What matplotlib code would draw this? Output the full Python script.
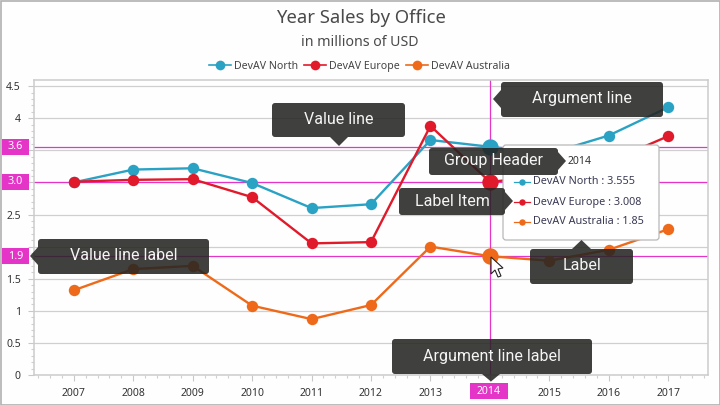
import matplotlib
matplotlib.use("Agg")
import matplotlib.pyplot as plt
from matplotlib.patches import FancyBboxPatch, Polygon, Rectangle
from matplotlib.ticker import MultipleLocator, FixedLocator, FixedFormatter

years = [2007, 2008, 2009, 2010, 2011, 2012, 2013, 2014, 2015, 2016, 2017]
north = [3.0, 3.2, 3.22, 2.99, 2.6, 2.66, 3.66, 3.555, 3.45, 3.73, 4.17]
europe = [3.01, 3.04, 3.05, 2.77, 2.05, 2.07, 3.88, 3.008, 3.1, 3.32, 3.72]
australia = [1.32, 1.65, 1.7, 1.08, 0.87, 1.09, 2.0, 1.85, 1.78, 1.95, 2.27]
series_names = ["DevAV North", "DevAV Europe", "DevAV Australia"]
series_colors = ["#2aa2c4", "#e01a2b", "#ee6a1a"]
y_tick_values = [0, 0.5, 1, 1.5, 2, 2.5, 3, 3.5, 4, 4.5]
# labels covered by the crosshair boxes in the reference are left empty
y_tick_labels = ["0", "0.5", "1", "1.5", "", "2.5", "", "", "4", "4.5"]
x_tick_labels = ["2007", "2008", "2009", "2010", "2011", "2012", "2013", "", "2015", "2016", "2017"]
hover_year = 2014
hover_values = [3.555, 3.008, 1.85]
hover_labels = ["3.6", "3.0", "1.9"]
tooltip_rows = ["DevAV North : 3.555", "DevAV Europe : 3.008", "DevAV Australia : 1.85"]

W, H = 720, 405
MAGENTA = "#e535c8"
TEXT = "#4a4a4a"
plt.rcParams["font.family"] = ["Noto Sans", "DejaVu Sans"]

fig = plt.figure(figsize=(7.2, 4.05), dpi=100, facecolor="#fefefe")
L, R, T, B = 34, 708, 80, 375
ax = fig.add_axes([L / W, 1 - B / H, (R - L) / W, (B - T) / H], facecolor="#fefefe")
ax.set_xlim(2006.33, 2017.67)
ax.set_ylim(0, (B - T) / 64.2)
for s in ax.spines.values():
    s.set_color("#cccccc")
    s.set_linewidth(1.1)
ax.yaxis.set_major_locator(FixedLocator(y_tick_values))
ax.yaxis.set_major_formatter(FixedFormatter(y_tick_labels))
ax.yaxis.set_minor_locator(MultipleLocator(0.1))
ax.xaxis.set_major_locator(FixedLocator(years))
ax.xaxis.set_major_formatter(FixedFormatter(x_tick_labels))
ax.xaxis.set_minor_locator(MultipleLocator(0.2))
ax.tick_params(axis="both", which="major", length=4.5, width=0.8, color="#c8c8c8",
               labelsize=7.5, labelcolor="#333333")
ax.tick_params(axis="both", which="minor", length=2.5, width=0.8, color="#d0d0d0")
ax.tick_params(axis="x", pad=5)
ax.tick_params(axis="y", pad=5, labelsize=7.5)
ax.grid(True, which="major", axis="y", color="#cfcfcf", lw=0.9, zorder=0)
ax.set_axisbelow(True)

for v in hover_values:
    ax.axhline(v, color=MAGENTA, lw=0.9, zorder=1.5)
ax.axvline(hover_year, color=MAGENTA, lw=0.9, zorder=1.5)

all_values = [north, europe, australia]
hi = years.index(hover_year)
for vals, col, name in zip(all_values, series_colors, series_names):
    ax.plot(years, vals, color=col, lw=1.7, marker="o", ms=8.2, mew=0, label=name, zorder=3)
    ax.plot([years[hi]], [vals[hi]], color=col, marker="o", ms=11.8, mew=0, ls="none", zorder=3.2)

legend_handles = [plt.Line2D([], [], color=c, lw=1.2, marker="o", ms=7, mew=0) for c in series_colors]
fig.legend(legend_handles, series_names, loc="center", bbox_to_anchor=(359.5 / W, 1 - 66.5 / H),
           ncols=3, frameon=False, fontsize=7.6, labelcolor="#444444", handlelength=2.1,
           handletextpad=0.25, columnspacing=0.6, borderpad=0)
fig.text(360.5 / W, 1 - 18 / H, "Year Sales by Office", ha="center", va="center", fontsize=13.3, color=TEXT)
fig.text(359.5 / W, 1 - 42.5 / H, "in millions of USD", ha="center", va="center", fontsize=10.2, color=TEXT)

ov = fig.add_axes([0, 0, 1, 1], facecolor="none")
ov.set_xlim(0, W)
ov.set_ylim(H, 0)
ov.axis("off")

def value_to_py(v):
    return ov.transData.inverted().transform(ax.transData.transform((years[0], v)))[1]
def year_to_px(x):
    return ov.transData.inverted().transform(ax.transData.transform((x, 0)))[0]

for v, lab in zip(hover_values, hover_labels):
    py = value_to_py(v)
    ov.add_patch(Rectangle((2, py - 8), 27, 16, fc=MAGENTA, ec="none", zorder=2))
    ov.text(15.5, py, lab, color="white", ha="center", va="center", fontsize=7.8, zorder=3)
hx = year_to_px(hover_year)
ov.add_patch(Rectangle((hx - 19.5, 383), 38, 16, fc=MAGENTA, ec="none", zorder=2))
ov.text(hx - 1, 391, str(hover_year), color="white", ha="center", va="center", fontsize=7.5, zorder=3)

ov.add_patch(FancyBboxPatch((505, 147), 152, 91, boxstyle="round,pad=2,rounding_size=3",
                            fc="white", ec="#b8b8b8", lw=0.9, zorder=4))
ov.text(568, 162, str(hover_year), color="#333333", ha="left", va="center", fontsize=7.5, zorder=5)
for i, (row, col) in enumerate(zip(tooltip_rows, series_colors)):
    py = 182 + i * 20
    ov.plot([514, 530], [py, py], color=col, lw=0.9, zorder=5)
    ov.plot([521.5], [py], color=col, marker="o", ms=4.6, mew=0, zorder=5)
    ov.text(533, py, row, color="#3a3a55", ha="left", va="center", fontsize=7.8, zorder=5)

ov.add_patch(Polygon([(491, 257), (491, 274), (495, 270), (498, 277), (501, 276),
                      (498, 269), (503, 268)], closed=True, fc="white", ec="#222222", lw=0.8, zorder=6))

DARK = (0.14, 0.14, 0.13, 0.87)
def callout(x0, y0, x1, y1, text, tip, base):
    ov.add_patch(FancyBboxPatch((x0 + 3, y0 + 3), x1 - x0 - 6, y1 - y0 - 6,
                                boxstyle="round,pad=3,rounding_size=3", fc=DARK, ec="none", zorder=7))
    ov.add_patch(Polygon([base[0], tip, base[1]], closed=True, fc=DARK, ec="none", zorder=7))
    ov.text((x0 + x1) / 2, (y0 + y1) / 2 - 0.5, text, color="#f5f5f5", ha="center", va="center",
            fontsize=11.5, family="Roboto", zorder=8)

callout(272, 103, 405, 137, "Value line", (339, 146), [(330, 137), (348, 137)])
callout(501, 82, 663, 117, "Argument line", (493, 99), [(501, 90), (501, 108)])
callout(429, 148, 558, 175, "Group Header", (566, 161), [(558, 152), (558, 170)])
callout(399, 188, 505, 215, "Label Item", (513, 201), [(505, 192), (505, 210)])
callout(530, 249, 633, 284, "Label", (581.5, 240), [(572, 249), (591, 249)])
callout(38, 239, 209, 274, "Value line label", (30, 256), [(38, 247), (38, 265)])
callout(392, 339, 592, 374, "Argument line label", (491, 381.5), [(482, 374), (500, 374)])

ov.add_patch(Rectangle((0.5, 0.5), W - 1, H - 1, fc="none", ec="#b0b0b0", lw=1.2, zorder=9))

fig.savefig("out.png", dpi=100, facecolor=fig.get_facecolor())
